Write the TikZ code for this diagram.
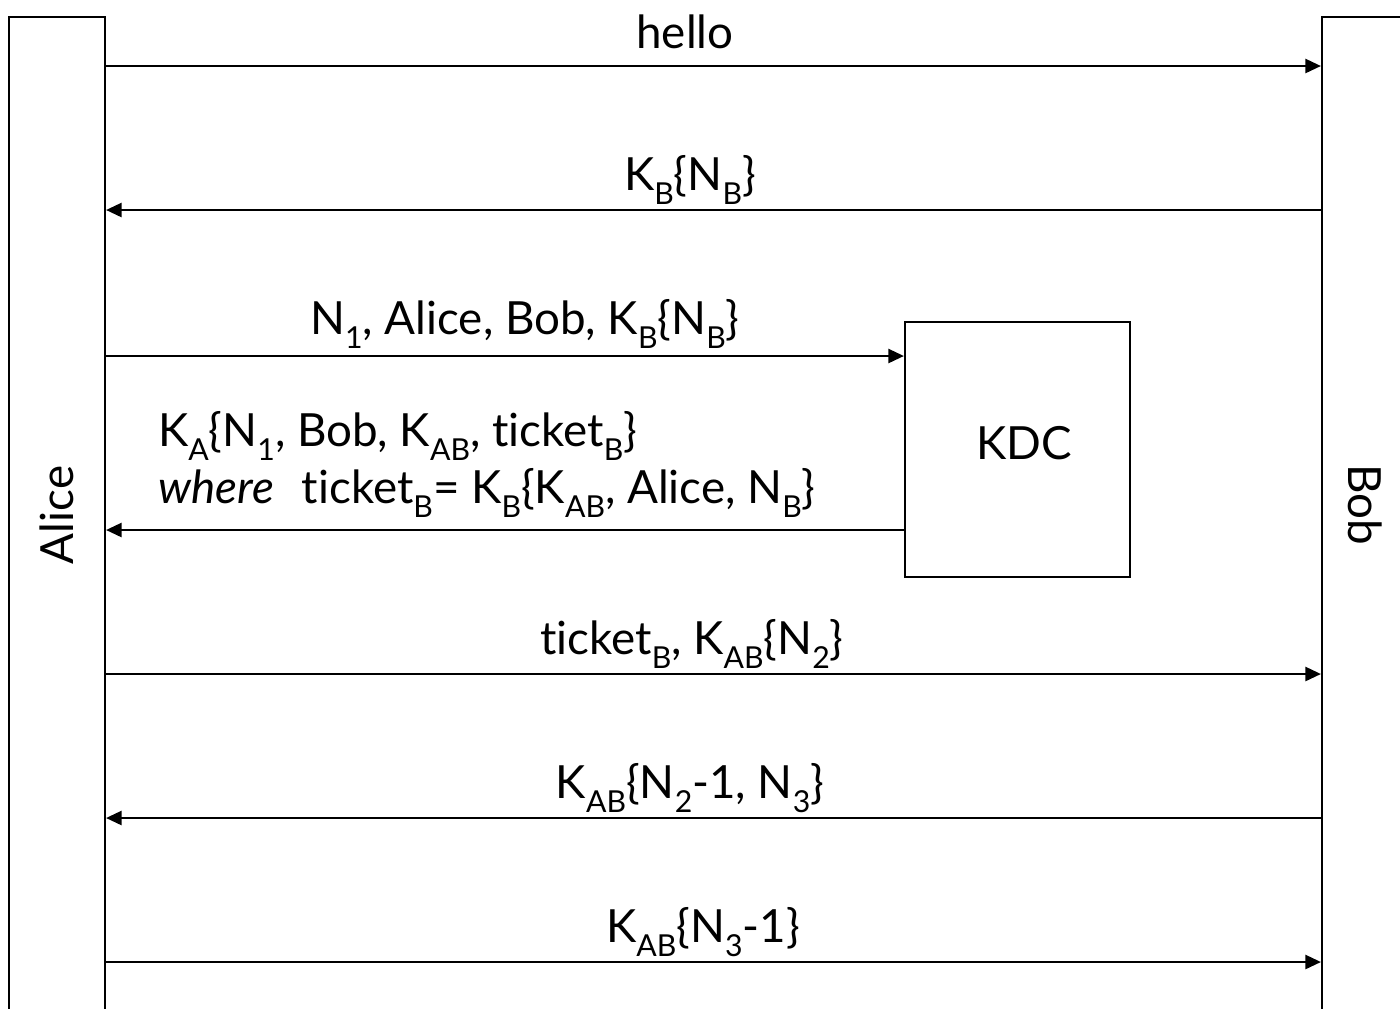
\documentclass[tikz,border=0pt]{standalone}
\usepackage{fontspec}
\setmainfont{Lato}[Ligatures=NoCommon]
\usetikzlibrary{arrows.meta}
\newcommand{\ix}[1]{\raisebox{-0.32em}{\fontsize{8.6}{9}\selectfont #1}}

\begin{document}
\begin{tikzpicture}[x=0.01cm,y=-0.01cm,line width=0.6pt,
  font=\fontsize{13}{16.2}\selectfont,
  msg/.style={-{Triangle[length=4.4pt,width=4pt]}},
  party/.style={draw,rectangle,minimum width=0.96cm,minimum height=10.2cm,inner sep=0pt}]
\useasboundingbox (0,0) rectangle (1400,1008);
\clip (0,0) rectangle (1400,1008);

% the two parties and the KDC
\node[party] (alice) at (57,527) {};
\node[party] (bob) at (1370,527) {};
\node[rotate=90] (alicename) at (57,515) {Alice};
\node[rotate=-90] (bobname) at (1365,505) {Bob};
\node[draw,minimum width=2.25cm,minimum height=2.55cm] (kdc) at (1017.5,449.5) {};
\node (kdcname) at (1024,443) {KDC};

% message rows
\coordinate (r1) at (0,66);
\coordinate (r2) at (0,210);
\coordinate (r3) at (0,356);
\coordinate (r4) at (0,530);
\coordinate (r5) at (0,674);
\coordinate (r6) at (0,818);
\coordinate (r7) at (0,962);

\draw[msg] (alice.east |- r1) -- (bob.west |- r1);
\draw[msg] (bob.west |- r2) -- (alice.east |- r2);
\draw[msg] (alice.east |- r3) -- (kdc.west |- r3);
\draw[msg] (kdc.west |- r4) -- (alice.east |- r4);
\draw[msg] (alice.east |- r5) -- (bob.west |- r5);
\draw[msg] (bob.west |- r6) -- (alice.east |- r6);
\draw[msg] (alice.east |- r7) -- (bob.west |- r7);

% labels
\node (m1) at (685,32) {hello};
\node (m2) at (690,180) {K\ix{B}\{N\ix{B}\}};
\node (m3) at (525,324) {N\ix{1}, Alice, Bob, K\ix{B}\{N\ix{B}\}};
\node[anchor=north west,align=left,inner sep=0pt] (m4) at (157,410)
  {K\ix{A}\{N\ix{1}, Bob, K\ix{AB}, ticket\ix{B}\}\\
   \textit{where}\hspace{8pt}ticket\ix{B}= K\ix{B}\{K\ix{AB}, Alice, N\ix{B}\}};
\node (m5) at (692,644) {ticket\ix{B}, K\ix{AB}\{N\ix{2}\}};
\node (m6) at (690,788) {K\ix{AB}\{N\ix{2}-1, N\ix{3}\}};
\node (m7) at (703,932) {K\ix{AB}\{N\ix{3}-1\}};
\end{tikzpicture}
\end{document}
